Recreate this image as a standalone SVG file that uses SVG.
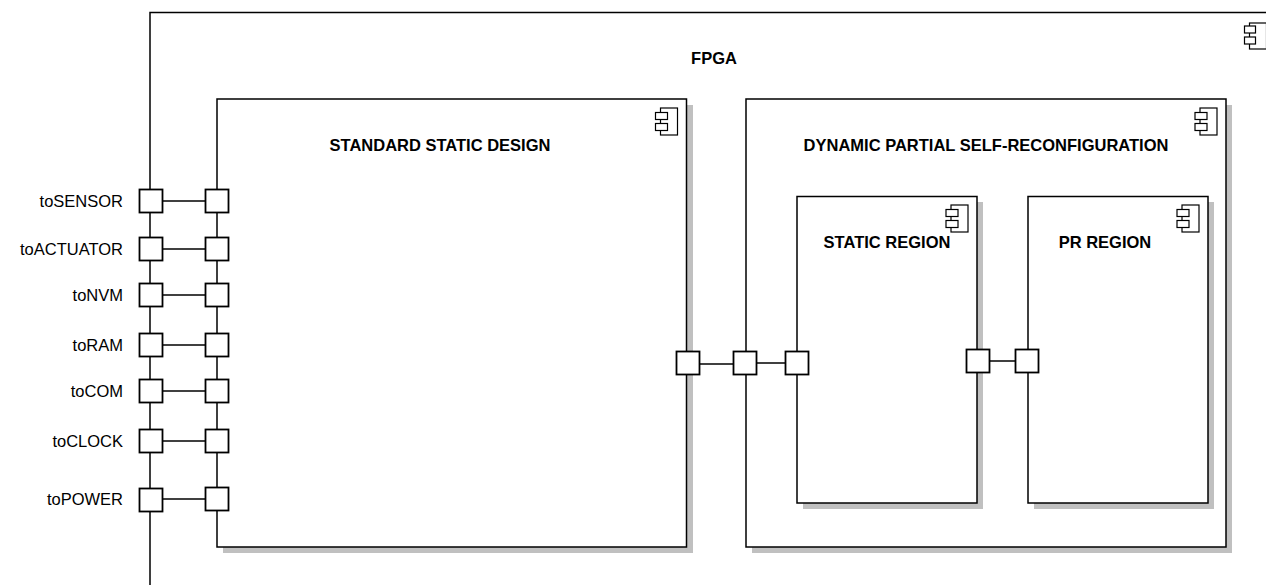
<svg xmlns="http://www.w3.org/2000/svg" width="1266" height="585" viewBox="0 0 1266 585">
<defs>
<style>
.box{fill:#fff;stroke:#000;stroke-width:1.5}
.shadow{fill:#c0c0c0;stroke:none}
.port{fill:#fff;stroke:#000;stroke-width:1.8}
.icon{fill:#fff;stroke:#000;stroke-width:1.2}
.wire{stroke:#000;stroke-width:1.5;fill:none}
.title{font-family:"Liberation Sans",Arial,sans-serif;font-weight:bold;font-size:16.5px;text-anchor:middle;fill:#000}
.lbl{font-family:"Liberation Sans",Arial,sans-serif;font-size:16.5px;text-anchor:end;fill:#000}
</style>
</defs>
<rect width="1266" height="585" fill="#fff"/>
<g id="fpga">
<rect class="box" x="150" y="12.5" width="1130" height="600"/>
<text class="title" x="714" y="64">FPGA</text>
<rect class="icon" x="1249.5" y="23" width="17" height="26"/>
<rect class="icon" x="1244.5" y="26" width="11" height="7"/>
<rect class="icon" x="1244.5" y="37" width="11" height="7"/>
</g>
<g id="ssd">
<rect class="shadow" x="223" y="105" width="470" height="448"/>
<rect class="box" x="217" y="99" width="469.5" height="448"/>
<text class="title" x="440" y="151">STANDARD STATIC DESIGN</text>
<rect class="icon" x="660.5" y="108" width="17" height="27"/>
<rect class="icon" x="655.5" y="112.5" width="12" height="7"/>
<rect class="icon" x="655.5" y="123.5" width="12" height="7"/>
</g>
<g id="dpsr">
<rect class="shadow" x="752" y="105" width="480" height="448"/>
<rect class="box" x="746" y="99" width="480" height="448"/>
<text class="title" x="986" y="151">DYNAMIC PARTIAL SELF-RECONFIGURATION</text>
<rect class="icon" x="1200" y="108" width="17" height="27"/>
<rect class="icon" x="1195" y="112.5" width="12" height="7"/>
<rect class="icon" x="1195" y="123.5" width="12" height="7"/>
</g>
<g id="static-region">
<rect class="shadow" x="803" y="202" width="180" height="307"/>
<rect class="box" x="797" y="196.5" width="180" height="306.5"/>
<text class="title" x="887" y="248">STATIC REGION</text>
<rect class="icon" x="951" y="205" width="17" height="27"/>
<rect class="icon" x="946" y="209.5" width="12" height="7"/>
<rect class="icon" x="946" y="220.5" width="12" height="7"/>
</g>
<g id="pr-region">
<rect class="shadow" x="1034" y="202" width="180" height="307"/>
<rect class="box" x="1028" y="196.5" width="180" height="306.5"/>
<text class="title" x="1105" y="248">PR REGION</text>
<rect class="icon" x="1182" y="205" width="17" height="27"/>
<rect class="icon" x="1177" y="209.5" width="12" height="7"/>
<rect class="icon" x="1177" y="220.5" width="12" height="7"/>
</g>
<g id="connectors">
<line class="wire" x1="150" y1="201" x2="217" y2="201"/>
<line class="wire" x1="150" y1="249" x2="217" y2="249"/>
<line class="wire" x1="150" y1="295" x2="217" y2="295"/>
<line class="wire" x1="150" y1="345" x2="217" y2="345"/>
<line class="wire" x1="150" y1="391" x2="217" y2="391"/>
<line class="wire" x1="150" y1="441" x2="217" y2="441"/>
<line class="wire" x1="150" y1="499" x2="217" y2="499"/>
<line class="wire" x1="688" y1="364" x2="745" y2="364"/>
<line class="wire" x1="745" y1="363" x2="797" y2="363"/>
<line class="wire" x1="978" y1="361" x2="1027" y2="361"/>
</g>
<g id="ports-fpga">
<rect class="port" x="139.5" y="189.5" width="23" height="23"/>
<rect class="port" x="139.5" y="237.5" width="23" height="23"/>
<rect class="port" x="139.5" y="283.5" width="23" height="23"/>
<rect class="port" x="139.5" y="333.5" width="23" height="23"/>
<rect class="port" x="139.5" y="379.5" width="23" height="23"/>
<rect class="port" x="139.5" y="429.5" width="23" height="23"/>
<rect class="port" x="139.5" y="488.5" width="23" height="23"/>
<text class="lbl" x="123" y="207">toSENSOR</text>
<text class="lbl" x="123" y="255">toACTUATOR</text>
<text class="lbl" x="123" y="301">toNVM</text>
<text class="lbl" x="123" y="351">toRAM</text>
<text class="lbl" x="123" y="397">toCOM</text>
<text class="lbl" x="123" y="447">toCLOCK</text>
<text class="lbl" x="123" y="505">toPOWER</text>
</g>
<g id="ports-ssd">
<rect class="port" x="205.5" y="189.5" width="23" height="23"/>
<rect class="port" x="205.5" y="237.5" width="23" height="23"/>
<rect class="port" x="205.5" y="283.5" width="23" height="23"/>
<rect class="port" x="205.5" y="333.5" width="23" height="23"/>
<rect class="port" x="205.5" y="379.5" width="23" height="23"/>
<rect class="port" x="205.5" y="429.5" width="23" height="23"/>
<rect class="port" x="205.5" y="487.5" width="23" height="23"/>
<rect class="port" x="676.5" y="351.5" width="23" height="23"/>
</g>
<g id="ports-dpsr">
<rect class="port" x="733.5" y="351.5" width="23" height="23"/>
<rect class="port" x="785.5" y="351.5" width="23" height="23"/>
<rect class="port" x="966.5" y="349.5" width="23" height="23"/>
<rect class="port" x="1015.5" y="349.5" width="23" height="23"/>
</g>
</svg>
